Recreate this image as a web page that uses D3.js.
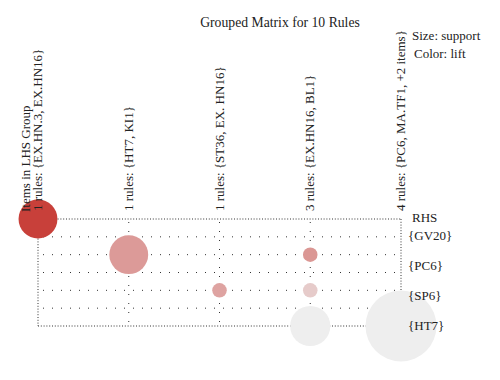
<!DOCTYPE html>
<html>
<head>
<meta charset="utf-8">
<script src="https://cdn.jsdelivr.net/npm/d3@7"></script>
<style>
  body { margin: 0; background: #fff; }
  text { font-family: "Liberation Serif", "DejaVu Serif", serif; fill: #222; }
</style>
</head>
<body>
<svg id="chart"></svg>
<script>
// LHS groups (columns) and RHS items (rows)
var lhsGroups = ["1 rules: {EX.HN.3, EX.HN16}", "1 rules: {HT7, KI1}", "1 rules: {ST36, EX. HN16}",
                 "3 rules: {EX.HN16, BL1}", "4 rules: {PC6, MA.TF1, +2 items}"]
var rhsItems = ["{GV20}", "{PC6}", "{SP6}", "{HT7}"]

// one entry per bubble: column index, row index
var ruleCol = [0, 1, 2, 3, 3, 3, 4]
var ruleRow = [0, 1, 2, 1, 2, 3, 3]
var support = [0.30, 0.30, 0.042, 0.042, 0.042, 0.32, 1.0]
var lift    = [3.0, 1.96, 1.86, 2.0, 1.4, 1.0, 1.0]

var screen = { width: 500, height: 380 }

var svg = d3.select("#chart")
  .attr("width", screen.width)
  .attr("height", screen.height)

var xScale = d3.scaleLinear()
  .domain([0, lhsGroups.length - 1])
  .range([38, 401])

var yScale = d3.scaleLinear()
  .domain([0, rhsItems.length - 1])
  .range([219, 326])

// labels on the right sit on their own spacing
var labelY = d3.scaleLinear()
  .domain([0, rhsItems.length - 1])
  .range([240, 330])

var rScale = d3.scaleSqrt()
  .domain([0, 1])
  .range([0, 35.5])

var colorScale = d3.scaleLinear()
  .domain([1, 3])
  .range(["#eeeeee", "#c8403a"])
  .interpolate(d3.interpolateRgb)

// grid: dense outer box, sparse inner lines
var grid = svg.append("g")
  .attr("stroke", "#333")
  .attr("stroke-width", 1)
  .attr("fill", "none")

var lastRow = rhsItems.length - 1
var halfRows = d3.range(0, lastRow + 0.01, 0.5)
grid.selectAll("line.h")
  .data(halfRows)
  .enter()
  .append("line")
  .attr("x1", function(d){
    return (d == 0 || d == lastRow) ? xScale(0) : xScale(0) + 5 })
  .attr("x2", xScale(lhsGroups.length - 1))
  .attr("y1", function(d){ return yScale(d) })
  .attr("y2", function(d){ return yScale(d) })
  .attr("stroke-dasharray", function(d){
    return (d == 0 || d == lastRow) ? "1,1.8" : "1,8" })

var innerCols = d3.range(1, lhsGroups.length - 1)
grid.selectAll("line.v")
  .data(innerCols)
  .enter()
  .append("line")
  .attr("x1", function(d){ return xScale(d) })
  .attr("x2", function(d){ return xScale(d) })
  .attr("y1", yScale(0) + 3)
  .attr("y2", yScale(lastRow))
  .attr("stroke-dasharray", "1,8")

grid.selectAll("line.side")
  .data([0, lhsGroups.length - 1])
  .enter()
  .append("line")
  .attr("x1", function(d){ return xScale(d) })
  .attr("x2", function(d){ return xScale(d) })
  .attr("y1", yScale(0))
  .attr("y2", yScale(lastRow))
  .attr("stroke-dasharray", "1,1.8")

// bubbles
var bubbles = ruleCol.map(function(c, i){
  return { col: c, row: ruleRow[i], support: support[i], lift: lift[i] }
})

svg.selectAll("circle")
  .data(bubbles)
  .enter()
  .append("circle")
  .attr("cx", function(d){ return xScale(d.col) })
  .attr("cy", function(d){ return yScale(d.row) })
  .attr("r", function(d){ return rScale(d.support) })
  .attr("fill", function(d){ return colorScale(d.lift) })

// column labels
svg.selectAll("text.lhs")
  .data(lhsGroups)
  .enter()
  .append("text")
  .attr("class", "lhs")
  .attr("transform", function(d, i){
    return "translate(" + (xScale(i) + 4) + ",211) rotate(-90)" })
  .attr("font-size", "13px")
  .text(function(d){ return d })

svg.append("text")
  .attr("transform", "translate(" + (xScale(0) - 8) + ",212) rotate(-90)")
  .attr("font-size", "13px")
  .text("Items in LHS Group")

// row labels
svg.selectAll("text.rhs")
  .data(rhsItems)
  .enter()
  .append("text")
  .attr("class", "rhs")
  .attr("x", 408)
  .attr("y", function(d, i){ return labelY(i) })
  .attr("font-size", "13px")
  .text(function(d){ return d })

svg.append("text")
  .attr("x", 412)
  .attr("y", 222)
  .attr("font-size", "13px")
  .text("RHS")

// title and legend
svg.append("text")
  .attr("x", 280)
  .attr("y", 27)
  .attr("text-anchor", "middle")
  .attr("font-size", "13.7px")
  .text("Grouped Matrix for 10 Rules")

svg.append("text")
  .attr("x", 412)
  .attr("y", 40)
  .attr("font-size", "13px")
  .text("Size: support")

svg.append("text")
  .attr("x", 414)
  .attr("y", 58)
  .attr("font-size", "13px")
  .text("Color: lift")
</script>
</body>
</html>
